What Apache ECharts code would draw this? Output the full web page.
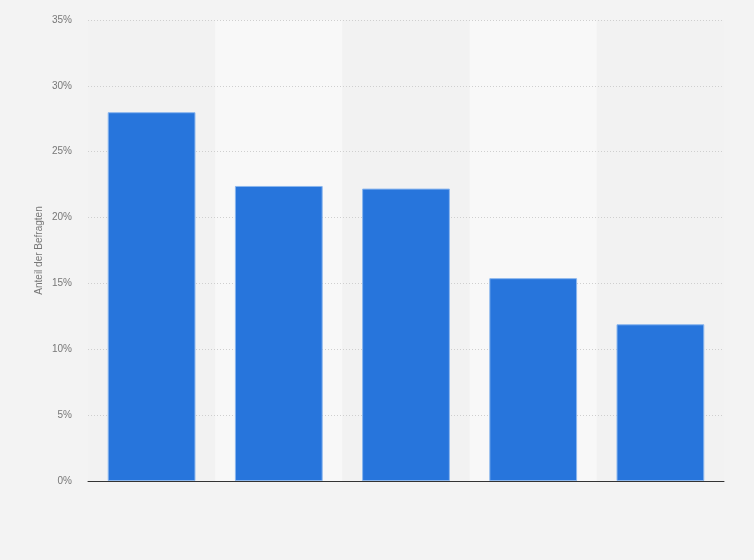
<!DOCTYPE html>
<html><head><meta charset="utf-8">
<script src="https://cdn.jsdelivr.net/npm/echarts@6/dist/echarts.min.js"></script>
<style>html,body{margin:0;padding:0;background:#f3f3f3;}#c{width:754px;height:560px;}</style>
</head><body><div id="c"></div>
<script>
const categories = ['A', 'B', 'C', 'D', 'E'];
const values = [28.0, 22.4, 22.2, 15.4, 11.9];
const yTicks = [0, 5, 10, 15, 20, 25, 30, 35];
const yTitle = 'Anteil der Befragten';

const chart = echarts.init(document.getElementById('c'));
chart.setOption({
  backgroundColor: '#f3f3f3',
  animation: false,
  grid: { left: 88, right: 30, top: 20, bottom: 79 },
  xAxis: {
    type: 'category',
    data: categories,
    z: 0,
    axisLine: { lineStyle: { color: '#333', width: 1 } },
    axisTick: { show: false },
    axisLabel: { show: false },
    splitArea: { show: true, areaStyle: { color: ['#f2f2f2', '#f8f8f8'] } }
  },
  yAxis: {
    type: 'value',
    z: 1,
    min: yTicks[0],
    max: yTicks[yTicks.length - 1],
    interval: 5,
    name: yTitle,
    nameLocation: 'middle',
    nameMoveOverlap: false,
    nameGap: 44,
    nameTextStyle: { color: '#777', fontSize: 10, fontFamily: 'Arial, Liberation Sans, sans-serif' },
    axisLine: { show: false },
    axisTick: { show: false },
    axisLabel: { color: '#777', fontSize: 10, fontFamily: 'Arial, Liberation Sans, sans-serif', formatter: v => v + '%', margin: 16 },
    splitLine: { showMinLine: false, lineStyle: { color: '#cfcfcf', type: [1, 2], width: 1 } }
  },
  series: [{
    type: 'bar',
    z: 2,
    data: values,
    barCategoryGap: '31%',
    itemStyle: { color: '#2775dc', borderColor: '#8ab6ee', borderWidth: 1 }
  }]
});
</script></body></html>
